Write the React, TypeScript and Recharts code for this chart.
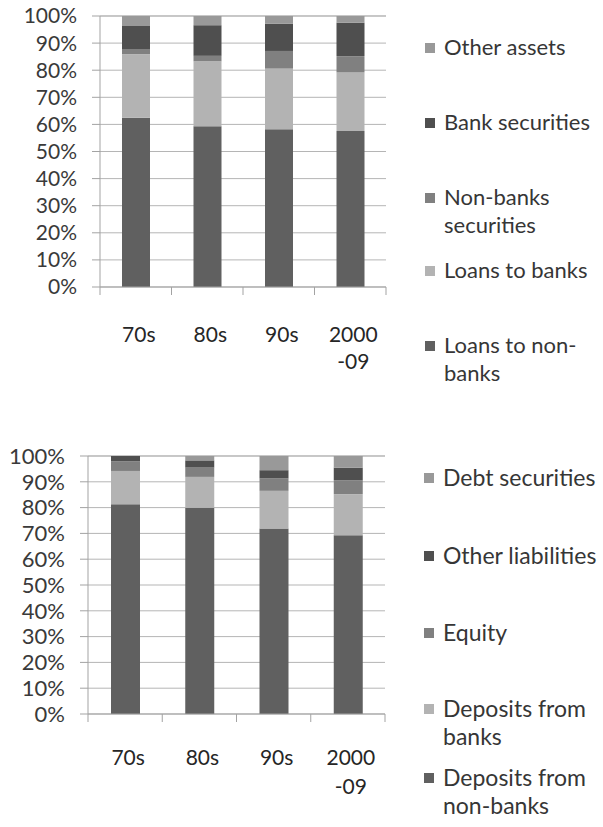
import { Bar, BarChart, CartesianGrid, XAxis, YAxis } from "recharts";

// decades on the x axis
const periods = ["70s", "80s", "90s", "2000-09"];
const percentTicks = [0, 10, 20, 30, 40, 50, 60, 70, 80, 90, 100];

// assets (bottom of stack first)
const assetNames = [
  "Loans to non-banks",
  "Loans to banks",
  "Non-banks securities",
  "Bank securities",
  "Other assets",
];
const loansToNonBanks = [62.5, 59.3, 58.2, 57.6];
const loansToBanks = [23.4, 24.0, 22.4, 21.7];
const nonBanksSecurities = [1.7, 2.0, 6.5, 5.9];
const bankSecurities = [8.7, 11.3, 10.1, 12.3];
const otherAssets = [3.7, 3.4, 2.8, 2.5];

// liabilities (bottom of stack first)
const liabilityNames = [
  "Deposits from non-banks",
  "Deposits from banks",
  "Equity",
  "Other liabilities",
  "Debt securities",
];
const depositsFromNonBanks = [81.3, 79.9, 71.9, 69.3];
const depositsFromBanks = [12.9, 12.0, 14.6, 15.9];
const equity = [3.7, 3.6, 4.8, 5.4];
const otherLiabilities = [2.1, 2.8, 3.2, 4.9];
const debtSecurities = [0, 1.7, 5.5, 4.5];

const shades = ["#606060", "#b3b3b3", "#808080", "#4f4f4f", "#999999"];
const font = "Lato, 'Open Sans', sans-serif";
const gridColor = "#b5b5b5";
const axisColor = "#a3a3a3";

function buildRows(series: number[][]) {
  return periods.map((period, i) => {
    const row: Record<string, string | number> = { period };
    series.forEach((values, k) => {
      row["v" + k] = values[i];
    });
    return row;
  });
}

const assetRows = buildRows([
  loansToNonBanks,
  loansToBanks,
  nonBanksSecurities,
  bankSecurities,
  otherAssets,
]);
const liabilityRows = buildRows([
  depositsFromNonBanks,
  depositsFromBanks,
  equity,
  otherLiabilities,
  debtSecurities,
]);

function CategoryTick(props: any) {
  const { x, y, payload, index, band, count, gap, lineGap, size } = props;
  const lines = String(payload.value).split(/(?=-)/);
  const left = x - band / 2;
  const right = x + band / 2;

  return (
    <g>
      <line x1={left} x2={left} y1={y} y2={y + 8} stroke={axisColor} />
      {index === count - 1 && (
        <line x1={right} x2={right} y1={y} y2={y + 8} stroke={axisColor} />
      )}
      <text
        x={x + 3}
        y={y + gap}
        textAnchor="middle"
        fill="#262626"
        fontSize={size}
        fontFamily={font}
      >
        {lines.map((line, k) => (
          <tspan key={k} x={x + 3} dy={k === 0 ? "0.36em" : lineGap}>
            {line}
          </tspan>
        ))}
      </text>
    </g>
  );
}

function StackChart({
  rows,
  names,
  width,
  height,
  axisWidth,
  axisHeight,
  right,
  barSize,
  gap,
  lineGap,
  fontSize,
}: {
  rows: Record<string, string | number>[];
  names: string[];
  width: number;
  height: number;
  axisWidth: number;
  axisHeight: number;
  right: number;
  barSize: number;
  gap: number;
  lineGap: number;
  fontSize: number;
}) {
  const band = (width - right - axisWidth) / periods.length;

  return (
    <BarChart
      width={width}
      height={height}
      data={rows}
      margin={{ top: 16, right, bottom: 0, left: 0 }}
      barSize={barSize}
    >
      <CartesianGrid vertical={false} stroke={gridColor} />
      <XAxis
        dataKey="period"
        height={axisHeight}
        axisLine={{ stroke: axisColor }}
        tickLine={false}
        tickSize={0}
        tickMargin={0}
        interval={0}
        tick={(p: any) => (
          <CategoryTick
            {...p}
            band={band}
            count={periods.length}
            gap={gap}
            lineGap={lineGap}
            size={21}
          />
        )}
      />
      <YAxis
        width={axisWidth}
        domain={[0, 100]}
        ticks={percentTicks}
        interval={0}
        tickFormatter={(v) => `${v}%`}
        axisLine={{ stroke: axisColor }}
        tickLine={{ stroke: axisColor }}
        tickSize={8}
        tickMargin={15}
        tick={{ fontSize, fill: "#3a3a3a", fontFamily: font }}
      />
      {names.map((name, k) => (
        <Bar
          key={name}
          dataKey={"v" + k}
          name={name}
          stackId="a"
          fill={shades[k]}
          isAnimationActive={false}
        />
      ))}
    </BarChart>
  );
}

function SideLegend({
  names,
  firstLines,
  left,
  fontSize,
}: {
  names: string[];
  firstLines: number[];
  left: number;
  fontSize: number;
}) {
  // top entry is the last series in the stack
  const order = names.map((_, k) => names.length - 1 - k);

  return (
    <>
      {order.map((k, slot) => (
        <div
          key={names[k]}
          style={{
            position: "absolute",
            left,
            top: firstLines[slot] - 14,
            display: "flex",
            alignItems: "flex-start",
            fontFamily: font,
            fontSize,
            lineHeight: "28px",
            color: "#363636",
          }}
        >
          <span
            style={{
              width: 10,
              height: 10,
              marginTop: 10,
              marginRight: 9,
              background: shades[k],
              flex: "none",
            }}
          />
          <span style={{ width: 168 }}>{names[k]}</span>
        </div>
      ))}
    </>
  );
}

export default function App() {
  return (
    <div
      style={{
        position: "absolute",
        left: 0,
        top: 0,
        width: 603,
        height: 827,
        background: "#fff",
        overflow: "hidden",
      }}
    >
      <div style={{ position: "absolute", left: 0, top: 0 }}>
        <StackChart
          rows={assetRows}
          names={assetNames}
          width={400}
          height={400}
          axisWidth={100}
          axisHeight={113}
          right={14}
          barSize={28}
          gap={47}
          lineGap={27}
          fontSize={21}
        />
      </div>
      <SideLegend
        names={assetNames}
        firstLines={[47, 122, 197, 270, 345]}
        left={425}
        fontSize={22}
      />
      <div style={{ position: "absolute", left: 0, top: 440 }}>
        <StackChart
          rows={liabilityRows}
          names={liabilityNames}
          width={400}
          height={380}
          axisWidth={88}
          axisHeight={106}
          right={15}
          barSize={29}
          gap={43}
          lineGap={29}
          fontSize={22}
        />
      </div>
      <SideLegend
        names={liabilityNames}
        firstLines={[477, 555, 632, 708, 777]}
        left={424}
        fontSize={23}
      />
    </div>
  );
}
